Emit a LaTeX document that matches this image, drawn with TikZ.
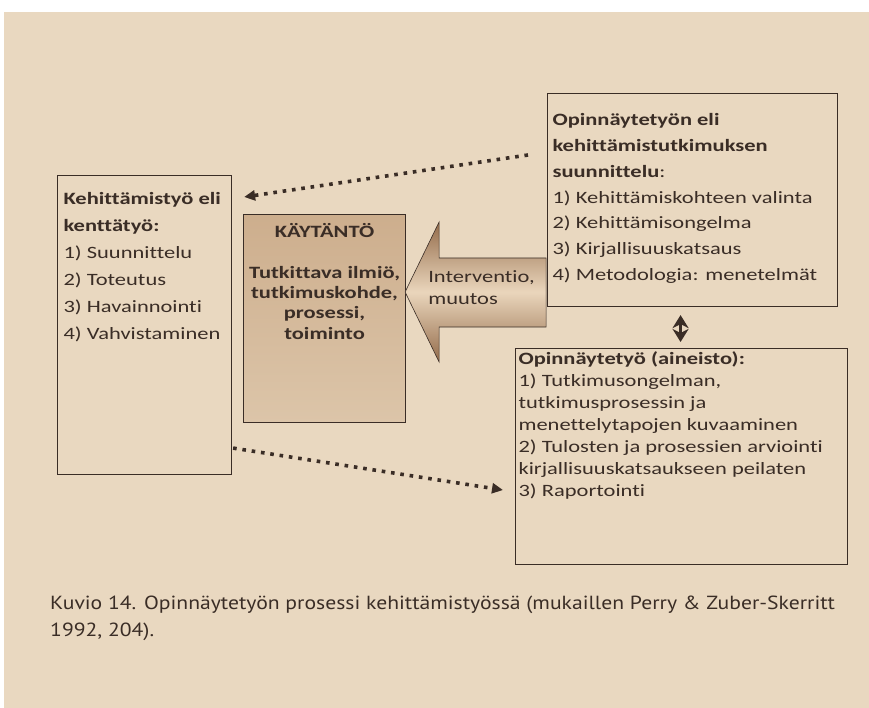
\documentclass[tikz,border=0pt]{standalone}
\usepackage{fontspec}
\setmainfont{Carlito}[FakeStretch=1.3, Ligatures=NoCommon]
\newfontfamily\captionfont{PT Sans}[FakeStretch=1.14]
\usepackage{tikz}
\usetikzlibrary{calc, arrows.meta}
\definecolor{paperColor}{HTML}{E9D8C0}
\definecolor{inkColor}{HTML}{3A2D26}
\definecolor{practiceTop}{HTML}{CDAE8D}
\definecolor{practiceBottom}{HTML}{DCC5A9}
\definecolor{arrowDark}{HTML}{946C4B}
\definecolor{arrowLight}{HTML}{EAD6BC}

\begin{document}
\begin{tikzpicture}[x=1pt, y=-1pt,
    box/.style={draw=inkColor, line width=1.1pt, anchor=north west, text=inkColor},
    dotarrow/.style={inkColor, line width=3.6pt, dash pattern=on 3.6pt off 5.8pt,
        -{Triangle[length=11pt,width=10pt]}}]
    \useasboundingbox (0,0) rectangle (869,708);
    \fill[white] (0,0) rectangle (869,708);
    \fill[paperColor] (4,12) rectangle (869,708);
    % laatikot
    \node[box, inner xsep=6pt, inner ysep=10pt] (kenttatyo) at (57,175)
        {\parbox[t][279pt][t]{162pt}{\fontsize{17.3}{27}\selectfont\raggedright
        \strut\textbf{Kehittämistyö eli}\\ \textbf{kenttätyö:}\\ 1) Suunnittelu\\
        2) Toteutus\\ 3) Havainnointi\\ 4) Vahvistaminen}};
    \node[box, top color=practiceTop, bottom color=practiceBottom, inner xsep=2pt,
        inner ysep=8.8pt] (kaytanto) at (243,214)
        {\parbox[t][190.4pt][t]{158pt}{\fontsize{17.3}{20.3}\selectfont\centering\bfseries
        \strut KÄYTÄNTÖ\\[20.3pt] Tutkittava ilmiö,\\ tutkimuskohde,\\ prosessi,\\ toiminto}};
    \node[box, inner xsep=5pt, inner ysep=14pt] (suunnittelu) at (547,93)
        {\parbox[t][185pt][t]{280pt}{\fontsize{17.3}{25.8}\selectfont\raggedright
        \strut\textbf{Opinnäytetyön eli}\\ \textbf{kehittämistutkimuksen}\\
        \textbf{suunnittelu}:\\ 1) Kehittämiskohteen valinta\\ 2) Kehittämisongelma\\
        3) Kirjallisuuskatsaus\\ 4) Metodologia: menetelmät}};
    \node[box, inner xsep=3pt, inner ysep=1pt] (aineisto) at (515,348)
        {\parbox[t][214pt][t]{326pt}{\fontsize{17.3}{22}\selectfont\raggedright
        \strut\textbf{Opinnäytetyö (aineisto):}\\ 1) Tutkimusongelman,\\
        tutkimusprosessin ja\\ menettelytapojen kuvaaminen\\
        2) Tulosten ja prosessien arviointi\\ kirjallisuuskatsaukseen peilaten\\
        3) Raportointi}};
    % iso nuoli
    \coordinate (karki) at ($(kaytanto.north east)+(-1,78)$);
    \draw[draw=inkColor, line width=0.6pt, top color=arrowDark, bottom color=arrowDark,
        middle color=arrowLight]
        (karki) -- ++(34,-70) -- ++(0,36) -- ++(107,0) -- ++(0,69)
        -- ++(-107,0) -- ++(0,35) -- cycle;
    \node[anchor=base west, inner sep=0pt, align=left, text=inkColor,
        font=\fontsize{17.3}{22}\selectfont] (interventio) at ($(karki)+(23,13)$)
        {Interventio,\\muutos};
    % nuolet
    \draw[dotarrow] ($(suunnittelu.north west)+(-19,62)$) -- ($(kenttatyo.north east)+(12,22)$);
    \draw[dotarrow] ($(kenttatyo.south east)+(1,-27)$) -- ($(aineisto.north west)+(-12,142)$);
    \draw[inkColor, line width=3pt,
        {Stealth[length=13pt,width=16pt,inset=4pt]}-{Stealth[length=13pt,width=16pt,inset=4pt]}]
        ($(suunnittelu.south)+(-12,8)$) -- ($(aineisto.north)+(-1,-6)$);
    % kuvateksti
    \node[anchor=base west, inner sep=0pt, align=left, text=inkColor,
        font=\captionfont\fontsize{19}{27}\selectfont] (kuvio) at (50,636)
        {Kuvio 14. Opinnäytetyön prosessi kehittämistyössä (mukaillen Perry \& Zuber-Skerritt\\
        1992, 204).};
\end{tikzpicture}
\end{document}
